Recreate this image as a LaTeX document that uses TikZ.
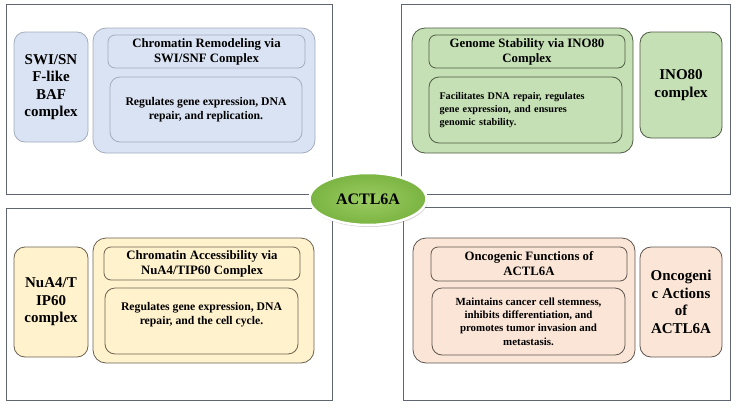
\documentclass[tikz,border=0pt]{standalone}
\usepackage{fontspec}
\setmainfont{Liberation Serif}
\usepackage{tikz}
\usetikzlibrary{shapes,shadows}
\definecolor{panelline}{HTML}{5F6670}
\definecolor{bluefill}{HTML}{DAE3F3}
\definecolor{blueline}{HTML}{A3ADBB}
\definecolor{greenfill}{HTML}{C5E0B4}
\definecolor{greenline}{HTML}{4F5B45}
\definecolor{yellowfill}{HTML}{FFF2CC}
\definecolor{yellowline}{HTML}{6B6250}
\definecolor{peachfill}{HTML}{FBE5D6}
\definecolor{peachline}{HTML}{5E5550}
\definecolor{hubgreen}{HTML}{7AB441}
\definecolor{hublight}{HTML}{9CCB63}
\tikzstyle{panelbox}=[draw=panelline,line width=0.9pt,inner sep=0pt]
\tikzstyle{groupbox}=[rounded corners=13pt,line width=0.8pt,inner sep=0pt]
\tikzstyle{sidebox}=[rounded corners=11pt,line width=0.8pt,inner sep=0pt,align=center,font=\bfseries\fontsize{15}{17.5}\selectfont]
\tikzstyle{headbox}=[rounded corners=7pt,line width=0.8pt,inner sep=0pt,align=center,font=\bfseries\fontsize{12.8}{15}\selectfont]
\tikzstyle{bodybox}=[rounded corners=10pt,line width=0.8pt,inner sep=0pt,align=center,font=\bfseries\fontsize{11.7}{14}\selectfont]
\tikzstyle{hub}=[ellipse,draw=white,line width=2.5pt,inner color=hublight,outer color=hubgreen,
  minimum width=117pt,minimum height=52pt,inner sep=0pt,font=\bfseries\fontsize{16}{18}\selectfont,
  drop shadow={opacity=0.35,shadow xshift=1pt,shadow yshift=-2pt}]

\begin{document}
\begin{tikzpicture}[x=1pt,y=-1pt]
      \useasboundingbox (0,0) rectangle (735,407);
      \foreach \cx/\cy/\w/\h/\id in {169/99/326/190/p1,565.5/99/329/190/p2,169/304/326/192/p3,566.5/303.5/327/193/p4}{
        \node[panelbox,minimum width=\w pt,minimum height=\h pt] (\id) at (\cx,\cy) {};
      }

      % SWI/SNF
      \node[sidebox,fill=bluefill,draw=blueline,minimum width=74pt,minimum height=110pt] (swi) at (51,87) {SWI/SN\\F-like\\BAF\\complex};
      \node[groupbox,fill=bluefill,draw=blueline,minimum width=222pt,minimum height=125pt] (swigroup) at (204,90.5) {};
      \node[headbox,fill=bluefill,draw=blueline,minimum width=197pt,minimum height=33pt] (swihead) at (206.5,51.5) {Chromatin Remodeling via\\SWI/SNF Complex};
      \node[bodybox,fill=bluefill,draw=blueline,minimum width=192pt,minimum height=65pt] (swibody) at (206,109.5) {Regulates gene expression, DNA\\repair, and replication.};

      % INO80
      \node[groupbox,fill=greenfill,draw=greenline,minimum width=221pt,minimum height=125pt] (inogroup) at (522.5,90.5) {};
      \node[headbox,fill=greenfill,draw=greenline,minimum width=196pt,minimum height=33pt] (inohead) at (527,51.5) {Genome Stability via INO80\\Complex};
      \node[bodybox,fill=greenfill,draw=greenline,minimum width=193pt,minimum height=66pt,text width=172pt,align=left,
        font=\bfseries\fontsize{10.2}{13}\selectfont] (inobody) at (525.5,110) {Facilitates DNA repair, regulates\\gene expression, and ensures\\genomic stability.};
      \node[sidebox,fill=greenfill,draw=greenline,minimum width=82pt,minimum height=106pt] (ino) at (681,85) {INO80\\complex};

      % NuA4/TIP60
      \node[sidebox,fill=yellowfill,draw=yellowline,minimum width=74pt,minimum height=110pt] (nua) at (51,302) {NuA4/T\\IP60\\complex};
      \node[groupbox,fill=yellowfill,draw=yellowline,minimum width=221pt,minimum height=125pt] (nuagroup) at (203.5,300.5) {};
      \node[headbox,fill=yellowfill,draw=yellowline,minimum width=196pt,minimum height=33pt] (nuahead) at (202,263.5) {Chromatin Accessibility via\\NuA4/TIP60 Complex};
      \node[bodybox,fill=yellowfill,draw=yellowline,minimum width=193pt,minimum height=66pt] (nuabody) at (201.5,321) {Regulates gene expression, DNA\\repair, and the cell cycle.\\[2pt]};

      % oncogenic
      \node[groupbox,fill=peachfill,draw=peachline,minimum width=222pt,minimum height=125pt] (oncgroup) at (524,300.5) {};
      \node[headbox,fill=peachfill,draw=peachline,minimum width=196pt,minimum height=34pt] (onchead) at (529,264) {Oncogenic Functions of\\ACTL6A};
      \node[bodybox,fill=peachfill,draw=peachline,minimum width=193pt,minimum height=67pt,
        font=\bfseries\fontsize{10.9}{13.3}\selectfont] (oncbody) at (528.5,321.5) {Maintains cancer cell stemness,\\inhibits differentiation, and\\promotes tumor invasion and\\metastasis.};
      \node[sidebox,fill=peachfill,draw=peachline,minimum width=82pt,minimum height=110pt] (onc) at (681,302) {Oncogeni\\c Actions\\of\\ACTL6A};

      \node[hub] (actl) at (368,199) {ACTL6A};
    \end{tikzpicture}
\end{document}
